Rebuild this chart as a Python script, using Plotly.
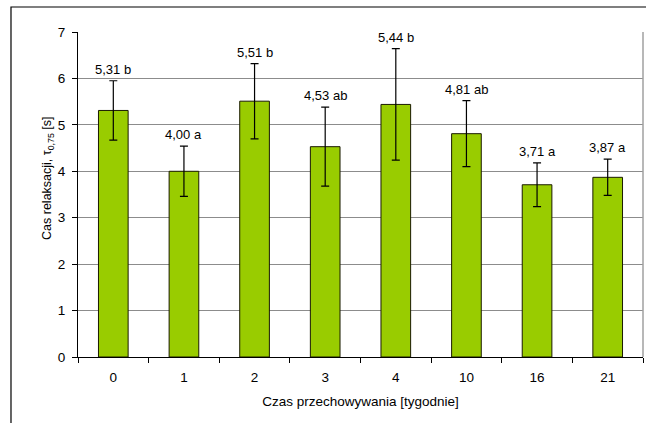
import plotly.graph_objects as go

# Storage time (weeks), mean relaxation time and standard deviation
weeks = ["0", "1", "2", "3", "4", "10", "16", "21"]
tau_mean = [5.31, 4.00, 5.51, 4.53, 5.44, 4.81, 3.71, 3.87]
tau_sd = [0.64, 0.54, 0.81, 0.85, 1.20, 0.71, 0.47, 0.39]
groups = ["b", "a", "b", "ab", "b", "ab", "a", "a"]

labels = [f"{v:.2f}".replace(".", ",") + " " + g for v, g in zip(tau_mean, groups)]

FONT = "Liberation Sans, Arial"

fig = go.Figure()
fig.add_trace(go.Bar(
    x=weeks,
    y=tau_mean,
    width=0.42,
    marker=dict(color="#99CC00", line=dict(color="#1a1a00", width=1)),
    error_y=dict(type="data", array=tau_sd, visible=True,
                 color="#000000", thickness=1.2, width=4),
    hoverinfo="skip",
))

# value + homogeneous-group labels above the error bars (category index positions)
for i, (v, s, t) in enumerate(zip(tau_mean, tau_sd, labels)):
    fig.add_annotation(x=i, y=v + s, text=t, showarrow=False,
                       yanchor="bottom", yshift=2,
                       font=dict(family=FONT, size=13, color="#000"))

# y-axis title placed as a rotated annotation
fig.add_annotation(xref="paper", yref="paper", x=-0.053, y=0.548,
                   text="Cas relaksacji, τ<sub>0,75</sub> [s]", textangle=-90,
                   showarrow=False, xanchor="center", yanchor="middle",
                   font=dict(family=FONT, size=12.5, color="#000"))

# outer chart frame and right edge of the plot area
fig.add_shape(type="rect", xref="paper", yref="paper",
              x0=-0.1186, x1=1.2, y0=-0.4, y1=1.0769,
              line=dict(color="#000000", width=1.2), layer="below")
fig.add_shape(type="line", xref="paper", yref="paper",
              x0=1, x1=1, y0=0, y1=1,
              line=dict(color="#a0a0a0", width=1.5))

fig.update_layout(
    width=646, height=423,
    margin=dict(l=78, r=3, t=32, b=66),
    paper_bgcolor="white", plot_bgcolor="white",
    showlegend=False,
    font=dict(family=FONT, size=13, color="#000"),
    xaxis=dict(
        type="category",
        range=[-0.5, len(weeks) - 0.5],
        tickson="boundaries",
        ticks="outside", ticklen=5, tickcolor="#000",
        ticklabelstandoff=8,
        showline=True, linecolor="#000", linewidth=1,
        showgrid=False,
        tickfont=dict(size=13.5),
        title=dict(text="Czas przechowywania [tygodnie]", font=dict(size=13.5), standoff=12),
    ),
    yaxis=dict(
        range=[0, 7], dtick=1,
        ticks="outside", ticklen=5, tickcolor="#000",
        ticklabelstandoff=4,
        showline=True, linecolor="#000", linewidth=1,
        showgrid=True, gridcolor="#8c8c8c", gridwidth=1,
        zeroline=False,
        tickfont=dict(size=13.5),
    ),
)

fig.write_html("out.html")
